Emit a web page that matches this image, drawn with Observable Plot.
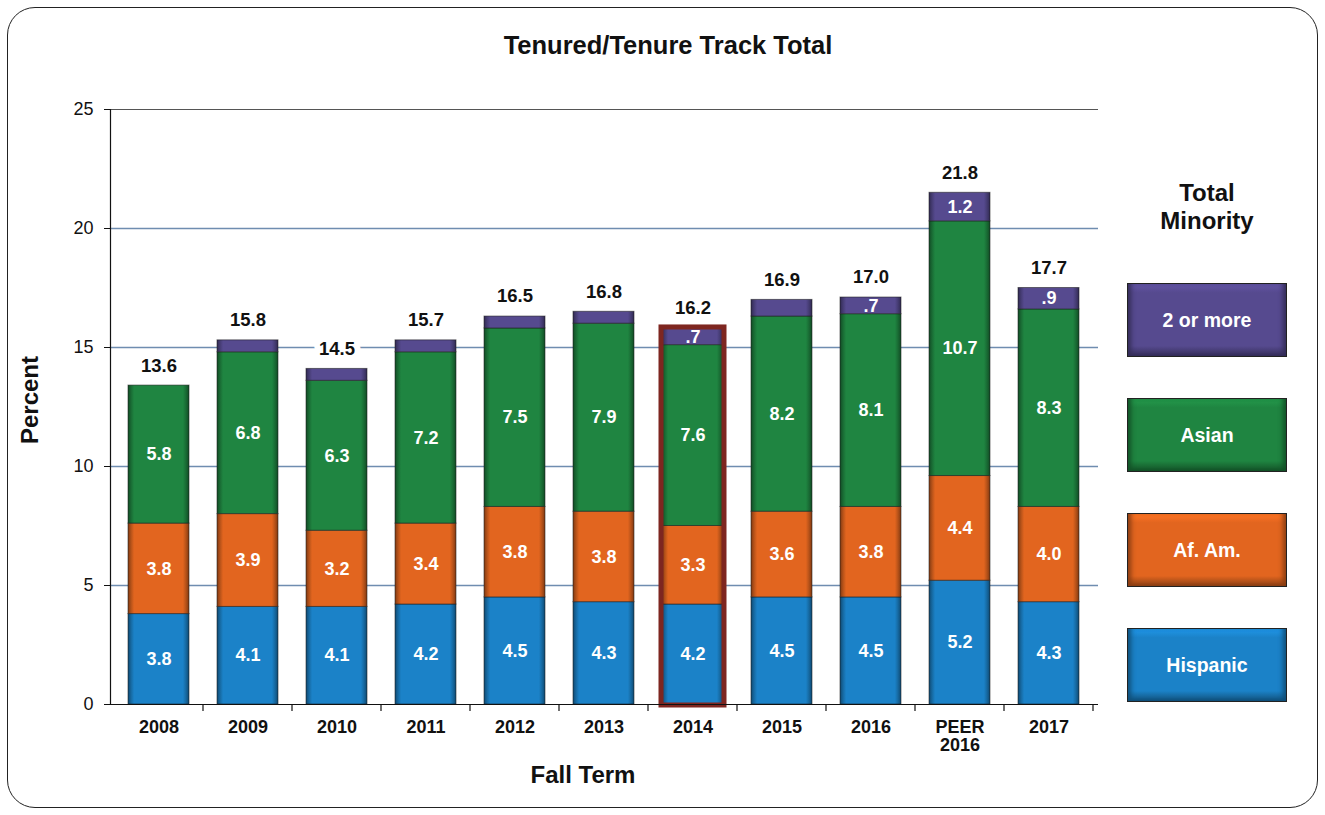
<!DOCTYPE html>
<html>
<head>
<meta charset="utf-8">
<script src="https://cdn.jsdelivr.net/npm/d3@7"></script>
<script src="https://cdn.jsdelivr.net/npm/@observablehq/plot@0.6"></script>
<style>
  body { margin: 0; background: #fff; font-family: "Liberation Sans", Arial, sans-serif; }
  #wrap { position: relative; width: 1325px; height: 815px; overflow: hidden; }
  #frame { position: absolute; left: 7px; top: 7px; width: 1309px; height: 799px; border: 1.5px solid #222; border-radius: 28px; }
  #chart { position: absolute; left: 0; top: 0; }
  .lbl { position: absolute; font-weight: bold; color: #111; text-align: center; line-height: 28px; }
  .box { position: absolute; left: 1127px; width: 160px; height: 74px; box-sizing: border-box; border: 1px solid #222;
         color: #fff; font-weight: bold; font-size: 19.5px; display: flex; align-items: center; justify-content: center; }
</style>
</head>
<body>
<div id="wrap">
  <div id="frame"></div>
  <svg width="0" height="0" style="position:absolute">
    <defs id="grads"></defs>
  </svg>
  <div id="chart"></div>
  <div class="lbl" style="left:0;width:1336px;top:31px;font-size:25.5px;">Tenured/Tenure Track Total</div>
  <div class="lbl" style="left:483px;width:200px;top:761px;font-size:24px;">Fall Term</div>
  <div class="lbl" style="left:-30px;width:120px;top:386px;font-size:24px;transform:rotate(-90deg);">Percent</div>
  <div class="lbl" style="left:1107px;width:200px;top:179px;font-size:24px;">Total<br>Minority</div>
  <div id="legend"></div>
</div>
<script>
// ---- data ----
const categories = ["2008","2009","2010","2011","2012","2013","2014","2015","2016","PEER 2016","2017"];
const series = ["Hispanic","Af. Am.","Asian","2 or more"];
const hispanic  = [3.8, 4.1, 4.1, 4.2, 4.5, 4.3, 4.2, 4.5, 4.5, 5.2, 4.3];
const afAm      = [3.8, 3.9, 3.2, 3.4, 3.8, 3.8, 3.3, 3.6, 3.8, 4.4, 4.0];
const asian     = [5.8, 6.8, 6.3, 7.2, 7.5, 7.9, 7.6, 8.2, 8.1, 10.7, 8.3];
const twoOrMore = [0.0, 0.5, 0.5, 0.5, 0.5, 0.5, 0.7, 0.7, 0.7, 1.2, 0.9];
const twoOrMoreLabels = ["", "", "", "", "", "", ".7", "", ".7", "1.2", ".9"];
const totalLabels = ["13.6","15.8","14.5","15.7","16.5","16.8","16.2","16.9","17.0","21.8","17.7"];
const highlighted = ["2014"];
const yTicks = [0, 5, 10, 15, 20, 25];
const colors = ["#1b82c8", "#e2651f", "#1f8541", "#564a8f"];
const legendOrder = ["2 or more", "Asian", "Af. Am.", "Hispanic"];

// ---- gradients (bevel look) ----
const defs = d3.select("#grads");
series.forEach((s, i) => {
  const c = d3.color(colors[i]);
  const g = defs.append("linearGradient").attr("id", "g" + i).attr("x1", 0).attr("x2", 1).attr("y1", 0).attr("y2", 0);
  const stops = [[0, c.darker(1.6)], [0.05, c.darker(0.6)], [0.1, c], [0.9, c], [0.95, c.darker(0.6)], [1, c.darker(1.6)]];
  stops.forEach(([o, col]) => g.append("stop").attr("offset", o).attr("stop-color", col.formatHex()));
});

// ---- table ----
const valuesBySeries = [hispanic, afAm, asian, twoOrMore];
const rows = [];
series.forEach((s, si) => {
  categories.forEach((c, ci) => {
    const v = valuesBySeries[si][ci];
    rows.push({cat: c, series: s, value: v,
      label: si === 3 ? twoOrMoreLabels[ci] : d3.format(".1f")(v)});
  });
});
const sums = categories.map((c, i) => valuesBySeries.reduce((a, arr) => a + arr[i], 0));
const totals = categories.map((c, i) => ({cat: c, sum: sums[i], label: totalLabels[i]}));

// boundary ticks between categories
function boundaryTicks(index, scales) {
  const x = scales.x, y = scales.y;
  const bw = typeof x.bandwidth === "function" ? x.bandwidth() : x.bandwidth;
  const step = x(categories[1]) - x(categories[0]);
  const g = d3.create("svg:g");
  const y0 = y(0);
  for (let i = 1; i <= categories.length; i++) {
    const pos = i < categories.length ? x(categories[i]) - (step - bw) / 2 : x(categories[i - 1]) + bw + (step - bw) / 2;
    g.append("line").attr("x1", pos).attr("x2", pos).attr("y1", y0).attr("y2", y0 + 7)
      .attr("stroke", "#111").attr("stroke-width", 1.2);
  }
  return g.node();
}

const chart = Plot.plot({
  width: 1325, height: 815,
  marginLeft: 110, marginRight: 227, marginTop: 109, marginBottom: 111,
  style: {fontFamily: "'Liberation Sans', Arial, sans-serif", color: "#111", background: "transparent"},
  x: {domain: categories, paddingInner: 0.31, paddingOuter: 0.155, label: null},
  y: {domain: [0, 25], label: null},
  color: {type: "ordinal", domain: series, range: series.map((s, i) => `url(#g${i})`)},
  marks: [
    Plot.ruleY([5, 10, 15, 20], {stroke: "#6f8db0", strokeWidth: 1.5}),
    Plot.ruleY([25], {stroke: "#555", strokeWidth: 1.2}),
    Plot.axisY({ticks: yTicks, tickSize: 6, tickPadding: 11, fontSize: 18, label: null}),
    Plot.axisX({tickSize: 0, tickPadding: 16, fontSize: 18, fontWeight: "bold", label: null,
      tickFormat: d => d.replace(" ", "\n")}),
    Plot.barY(rows, {x: "cat", y: "value", fill: "series", stroke: "#1a1a1a", strokeOpacity: 0.55, strokeWidth: 1}),
    Plot.barY(totals.filter(d => highlighted.includes(d.cat)), {x: "cat", y: "sum", fill: "none",
      stroke: "#7e2620", strokeWidth: 5, inset: -1}),
    Plot.text(rows, Plot.stackY({x: "cat", y: "value", z: "series", text: "label",
      fill: "white", fontSize: 18, fontWeight: "bold"})),
    Plot.text(totals, {x: "cat", y: "sum", text: "label", dy: -20, fontSize: 18.5, fontWeight: "bold",
      fill: "#111", stroke: "white", strokeWidth: 12, paintOrder: "stroke"}),
    Plot.ruleY([0], {stroke: "#111", strokeWidth: 1.2}),
    Plot.frame({anchor: "left", stroke: "#111", strokeWidth: 1.2}),
    boundaryTicks
  ]
});
document.getElementById("chart").appendChild(chart);

// ---- legend ----
const tops = [283, 398, 513, 628];
const legend = d3.select("#legend");
legendOrder.forEach((s, i) => {
  const c = d3.color(colors[series.indexOf(s)]);
  const dk = c.darker(1.4).formatHex(), md = c.darker(0.5).formatHex(), lt = c.brighter(0.4).formatHex(), base = c.formatHex();
  legend.append("div").attr("class", "box")
    .style("top", tops[i] + "px")
    .style("background", `linear-gradient(to bottom, ${lt} 0%, ${base} 12%, ${base} 86%, ${md} 92%, ${dk} 100%)`)
    .style("box-shadow", `inset 6px 0 5px -3px ${dk}, inset -6px 0 5px -3px ${dk}`)
    .text(s);
});
</script>
</body>
</html>
